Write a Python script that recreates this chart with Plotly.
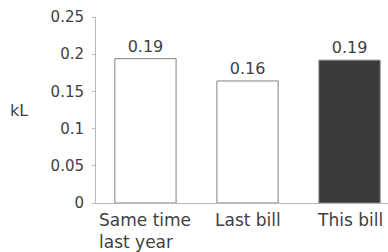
import plotly.graph_objects as go

categories = ["Same time<br>last year", "Last bill", "This bill"]
values = [0.194, 0.164, 0.192]
fills = ["#ffffff", "#ffffff", "#3b3b3b"]
y_ticks = [0, 0.05, 0.1, 0.15, 0.2, 0.25]
y_tick_text = ["0", "0.05", "0.1", "0.15", "0.2", "0.25"]
y_label = "kL"

FONT = "DejaVu Sans"
TXT = "#3f3f3f"
xpos = list(range(len(categories)))

fig = go.Figure()
fig.add_trace(go.Bar(
    x=xpos, y=values, width=0.6,
    marker=dict(color=fills, line=dict(color="#808080", width=1)),
    texttemplate="%{y:.2f}", textposition="outside",
    textfont=dict(family=FONT, size=16, color=TXT),
    cliponaxis=False, hoverinfo="skip",
))

for i, c in enumerate(categories):
    fig.add_annotation(x=i, y=0, xref="x", yref="y", text=c, showarrow=False,
                       xanchor="center", yanchor="top", yshift=-5, align="left",
                       font=dict(family=FONT, size=17, color=TXT))

fig.add_annotation(x=0, y=0.5, xref="paper", yref="paper", text=y_label,
                   showarrow=False, xanchor="right", xshift=-66,
                   font=dict(family=FONT, size=16, color=TXT))

fig.update_layout(
    width=388, height=252,
    margin=dict(l=96, r=0, t=17, b=49, autoexpand=False),
    paper_bgcolor="white", plot_bgcolor="white",
    showlegend=False, bargap=0.4,
)
fig.update_xaxes(range=[-0.485, 2.377], showticklabels=False, showgrid=False,
                 zeroline=False, showline=True, linecolor="#b8b8b8", linewidth=1,
                 ticks="", automargin=False)
fig.update_yaxes(range=[0, 0.25], tickvals=y_ticks, ticktext=y_tick_text,
                 showgrid=False, zeroline=False, showline=True, linecolor="#b8b8b8",
                 linewidth=1, ticks="outside", ticklen=3, tickcolor="#b8b8b8",
                 ticklabelstandoff=5, automargin=False,
                 tickfont=dict(family=FONT, size=15, color=TXT))

fig.write_html("out.html", config={"displayModeBar": False},
               post_script="document.body.style.margin='0';document.body.style.overflow='hidden';")
